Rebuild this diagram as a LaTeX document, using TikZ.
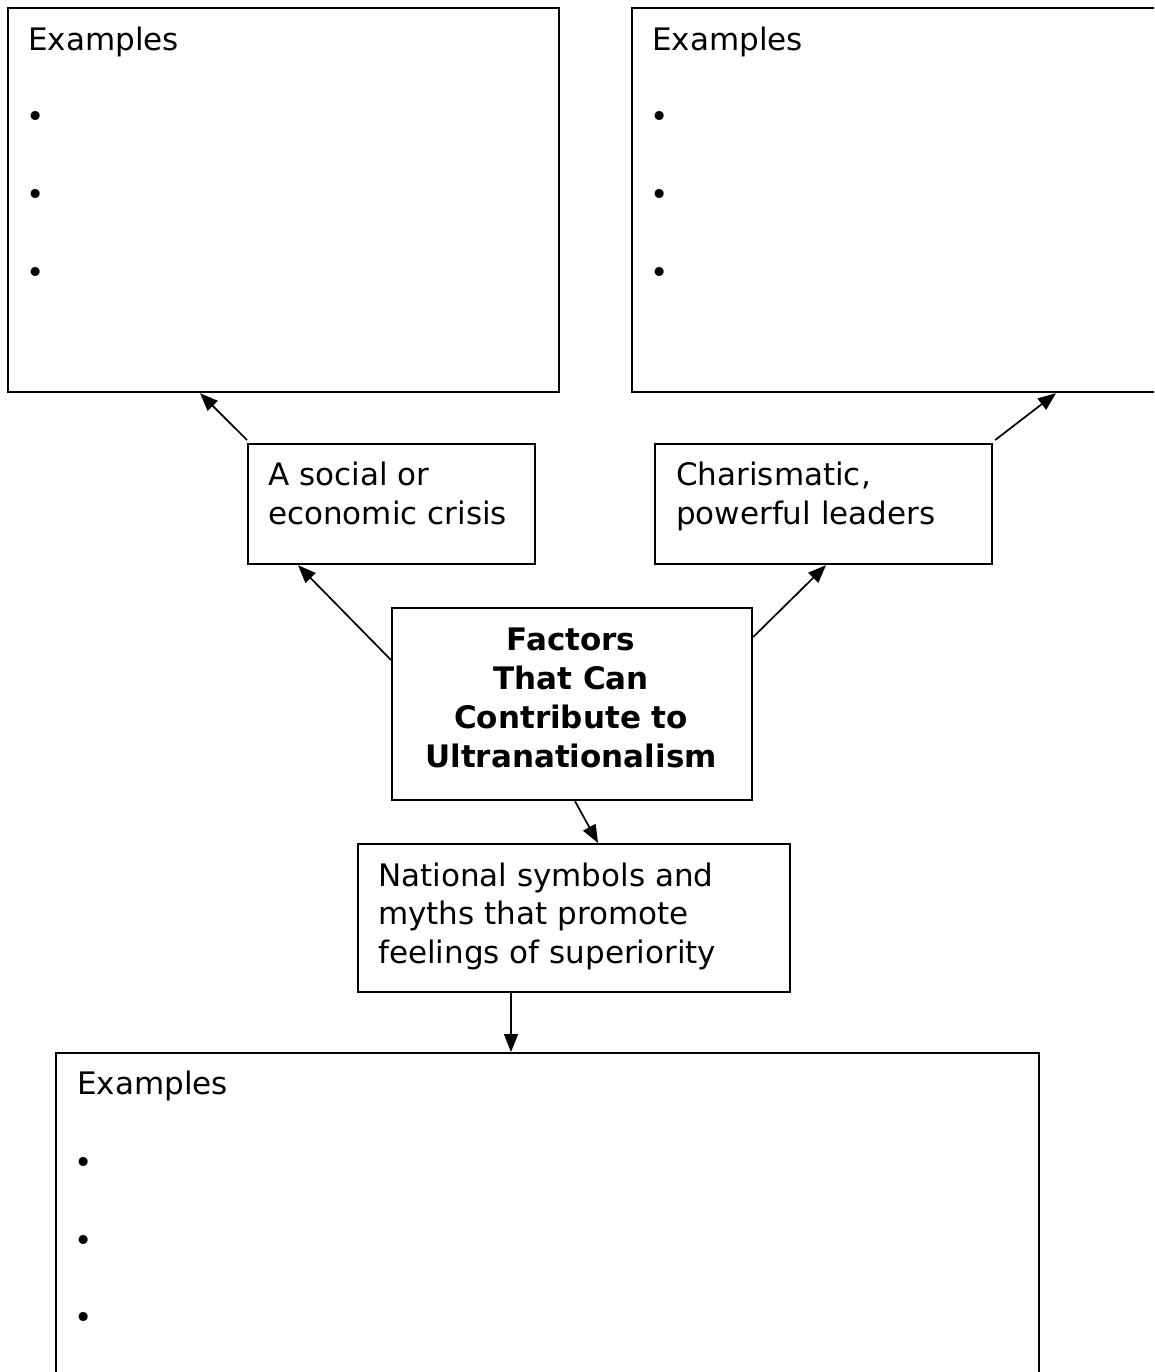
\documentclass[tikz,border=0pt]{standalone}
\usepackage{fontspec}
\setmainfont{DejaVu Sans}
\usetikzlibrary{arrows.meta,calc}
\begin{document}
\begin{tikzpicture}[x=1pt,y=-1pt,
  box/.style={draw,line width=2.2pt,rectangle,inner sep=0pt,anchor=north west},
  txt/.style={inner sep=0pt,anchor=base west,align=left,font=\fontsize{31}{38.5}\selectfont},
  ctxt/.style={inner sep=0pt,anchor=base,align=center,font=\fontsize{31}{39}\selectfont\bfseries},
  bul/.style={inner sep=0pt,anchor=base,font=\fontsize{31}{38.5}\selectfont},
  arr/.style={line width=1.7pt,-{Triangle[length=18pt,width=14pt]}}]
\useasboundingbox (0,0) rectangle (1154,1372);
\clip (0,0) rectangle (1154,1372);
% boxes
\node[box,minimum width=551pt,minimum height=384pt] (tl) at (7,7) {};
\node[box,minimum width=600pt,minimum height=384pt] (tr) at (631,7) {};
\node[box,minimum width=287pt,minimum height=120pt] (crisis) at (247,443) {};
\node[box,minimum width=337pt,minimum height=120pt] (leaders) at (654,443) {};
\node[box,minimum width=360pt,minimum height=192pt] (center) at (391,607) {};
\node[box,minimum width=432pt,minimum height=148pt] (sym) at (357,843) {};
\node[box,minimum width=983pt,minimum height=400pt] (bot) at (55,1052) {};
% texts
\node[txt] (tlh) at (28,51) {Examples};
\node[bul] (tlb1) at (36,128) {•};
\node[bul] (tlb2) at (36,206) {•};
\node[bul] (tlb3) at (36,283) {•};
\node[txt] (trh) at (652,51) {Examples};
\node[bul] (trb1) at (660,128) {•};
\node[bul] (trb2) at (660,206) {•};
\node[bul] (trb3) at (660,283) {•};
\node[txt] (crisist) at (268,524) {A social or\\economic crisis};
\node[txt] (leaderst) at (676,524) {Charismatic,\\powerful leaders};
\node[ctxt] (centert) at (571,767) {Factors\\That Can\\Contribute to\\Ultranationalism};
\node[txt] (symt) at (378,963) {National symbols and\\myths that promote\\feelings of superiority};
\node[txt] (both) at (77,1094) {Examples};
\node[bul] (botb1) at (84,1173) {•};
\node[bul] (botb2) at (84,1251) {•};
\node[bul] (botb3) at (84,1328) {•};
% connectors
\draw[arr] ($(crisis.north west)+(0,-3)$) -- ($(tl.south west)+(193,0)$);
\draw[arr] ($(center.north west)+(0,53)$) -- ($(crisis.south west)+(51,0)$);
\draw[arr] ($(center.north east)+(0,30)$) -- ($(leaders.south west)+(172,0)$);
\draw[arr] ($(leaders.north east)+(2,-3)$) -- ($(tr.south west)+(425,0)$);
\draw[arr] ($(center.south west)+(184,0)$) -- ($(sym.north west)+(241,0)$);
\draw[arr] ($(sym.south west)+(154,0)$) coordinate (s1) -- (s1 |- bot.north);
\end{tikzpicture}
\end{document}
